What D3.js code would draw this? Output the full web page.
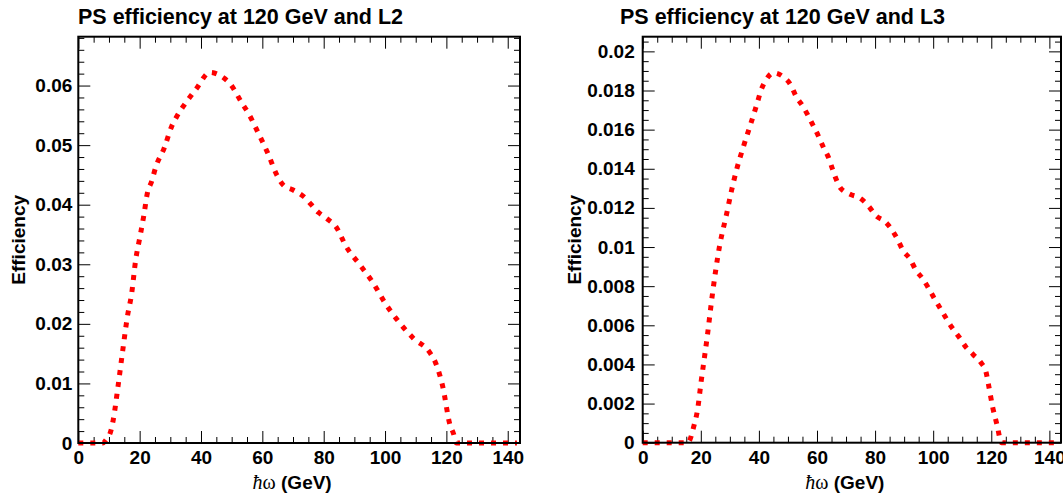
<!DOCTYPE html>
<html>
<head>
<meta charset="utf-8">
<script src="https://cdn.jsdelivr.net/npm/d3@7"></script>
<style>
  html, body { margin: 0; padding: 0; background: #fff; }
  svg { display: block; }
</style>
</head>
<body>
<svg id="chart" width="1063" height="498"></svg>
<script>
// ---------- data ----------
const titles = ["PS efficiency at 120 GeV and L2", "PS efficiency at 120 GeV and L3"];
const xTickLabels = [0, 20, 40, 60, 80, 100, 120, 140];
const yTicksL2 = [0, 0.01, 0.02, 0.03, 0.04, 0.05, 0.06];
const yTicksL3 = [0, 0.002, 0.004, 0.006, 0.008, 0.01, 0.012, 0.014, 0.016, 0.018, 0.02];

const energyL2 = [0, 4, 8, 9, 10.7, 11.4, 13, 14.5, 16, 17.4, 18.7, 20.1, 21.4, 22.5, 23.9, 25.3, 28, 30.4, 32.1, 34.2, 38.4, 42.9, 46.8, 49.5, 53.3, 55.4, 58.7, 61.9, 64.7, 66.8, 69.9, 73.4, 78.3, 81.2, 84, 87.3, 91.8, 96.2, 100, 104.4, 109.2, 114.7, 116.6, 118.8, 121.2, 122.3, 123.3, 128, 143];
const effL2 = [0, 0, 0, 0.0005, 0.0022, 0.0039, 0.0097, 0.0156, 0.0212, 0.0251, 0.0307, 0.0346, 0.0383, 0.0419, 0.0439, 0.0464, 0.0495, 0.0531, 0.0548, 0.0565, 0.0594, 0.0622, 0.0615, 0.0603, 0.0571, 0.0554, 0.052, 0.0485, 0.045, 0.0433, 0.0425, 0.0414, 0.0387, 0.0376, 0.0363, 0.033, 0.0299, 0.0268, 0.0235, 0.0204, 0.0176, 0.0151, 0.0133, 0.0095, 0.003, 0.0016, 0, 0, 0];

const energyL3 = [0, 10, 15.5, 17.7, 18.9, 20.1, 22.2, 24.1, 26.4, 28.9, 30.6, 32.4, 34.6, 37.2, 39.5, 40.7, 42.3, 45, 48.4, 50.9, 52.8, 55.1, 57, 58.7, 60.4, 62.2, 63.9, 65.3, 66.5, 68.2, 71.4, 74.8, 77.7, 80.3, 83.4, 85.7, 87.7, 89.7, 92, 94.1, 96.3, 98.4, 100.3, 102.3, 104.3, 106.4, 108.9, 111.2, 113.8, 116.4, 118.2, 119, 120.5, 122, 123.5, 130, 143];
const effL3 = [0, 0, 0, 0.0009, 0.0017, 0.0031, 0.0054, 0.0077, 0.01, 0.0117, 0.0129, 0.014, 0.0151, 0.0163, 0.0174, 0.018, 0.0185, 0.0189, 0.0187, 0.0183, 0.0177, 0.0172, 0.0167, 0.0162, 0.0157, 0.0151, 0.0146, 0.014, 0.0135, 0.013, 0.0127, 0.0125, 0.0121, 0.0116, 0.0113, 0.0109, 0.0104, 0.0098, 0.0094, 0.0088, 0.0084, 0.0079, 0.0074, 0.0069, 0.0064, 0.0059, 0.0054, 0.0049, 0.0045, 0.0041, 0.0036, 0.003, 0.0018, 0.0009, 0, 0, 0];

const xDomain = [0, 144];
const yMaxL2 = 0.0682;
const yMaxL3 = 0.02075;

// ---------- layout ----------
const panels = [
  { title: titles[0], xs: energyL2, ys: effL2, yMax: yMaxL2, yTicks: yTicksL2, yMinorStep: 0.002,
    left: 78.3, right: 520, top: 36.7, bottom: 443, titleX: 78, yTitleX: 25, labelGap: 6 },
  { title: titles[1], xs: energyL3, ys: effL3, yMax: yMaxL3, yTicks: yTicksL3, yMinorStep: 0.0005,
    left: 642.7, right: 1061, top: 36.7, bottom: 442.7, titleX: 620, yTitleX: 581, labelGap: 8 }
];

const svg = d3.select("#chart");
const FONT = "'Liberation Sans', Arial, Helvetica, sans-serif";
const LABEL_SIZE = 19;

function range(a, b, step) {
  const out = [];
  for (let v = a; v <= b + 1e-9; v += step) out.push(+v.toFixed(6));
  return out;
}

panels.forEach(p => {
  const x = d3.scaleLinear().domain(xDomain).range([p.left, p.right]);
  const y = d3.scaleLinear().domain([0, p.yMax]).range([p.bottom, p.top]);
  const g = svg.append("g");

  const xMinor = range(0, xDomain[1], 5).filter(v => !xTickLabels.includes(v));
  const yMinor = range(0, p.yMax, p.yMinorStep).filter(v => !p.yTicks.some(t => Math.abs(t - v) < 1e-9));

  const fmt = d => d === 0 ? "0" : d3.format("~g")(d);

  function styleAxis(sel) {
    sel.select(".domain").remove();
    sel.selectAll(".tick line").attr("stroke", "#000").attr("stroke-width", 1);
    sel.attr("font-family", FONT).attr("font-size", LABEL_SIZE).attr("font-weight", "bold");
    sel.selectAll(".tick text").attr("fill", "#000");
  }

  // bottom
  g.append("g").attr("transform", `translate(0,${p.bottom})`)
    .call(d3.axisBottom(x).tickValues(xTickLabels).tickSizeInner(-12).tickSizeOuter(0).tickPadding(8).tickFormat(fmt))
    .call(styleAxis);
  g.append("g").attr("transform", `translate(0,${p.bottom})`)
    .call(d3.axisBottom(x).tickValues(xMinor).tickSizeInner(-6).tickSizeOuter(0).tickFormat(""))
    .call(styleAxis);
  // top
  g.append("g").attr("transform", `translate(0,${p.top})`)
    .call(d3.axisTop(x).tickValues(xTickLabels).tickSizeInner(-12).tickSizeOuter(0).tickFormat(""))
    .call(styleAxis);
  g.append("g").attr("transform", `translate(0,${p.top})`)
    .call(d3.axisTop(x).tickValues(xMinor).tickSizeInner(-6).tickSizeOuter(0).tickFormat(""))
    .call(styleAxis);
  // left
  g.append("g").attr("transform", `translate(${p.left},0)`)
    .call(d3.axisLeft(y).tickValues(p.yTicks).tickSizeInner(-12).tickSizeOuter(0).tickPadding(p.labelGap).tickFormat(fmt))
    .call(styleAxis);
  g.append("g").attr("transform", `translate(${p.left},0)`)
    .call(d3.axisLeft(y).tickValues(yMinor).tickSizeInner(-6).tickSizeOuter(0).tickFormat(""))
    .call(styleAxis);
  // right
  g.append("g").attr("transform", `translate(${p.right},0)`)
    .call(d3.axisRight(y).tickValues(p.yTicks).tickSizeInner(-12).tickSizeOuter(0).tickFormat(""))
    .call(styleAxis);
  g.append("g").attr("transform", `translate(${p.right},0)`)
    .call(d3.axisRight(y).tickValues(yMinor).tickSizeInner(-6).tickSizeOuter(0).tickFormat(""))
    .call(styleAxis);

  // curve
  const pts = p.xs.map((v, i) => [v, p.ys[i]]);
  const line = d3.line().x(d => x(d[0])).y(d => y(d[1])).curve(d3.curveMonotoneX);
  g.append("path").datum(pts)
    .attr("d", line)
    .attr("fill", "none")
    .attr("stroke", "#ff0000")
    .attr("stroke-width", 5)
    .attr("stroke-dasharray", "5 7")
    .attr("stroke-linecap", "butt");

  // frame
  g.append("rect")
    .attr("x", p.left).attr("y", p.top)
    .attr("width", p.right - p.left).attr("height", p.bottom - p.top)
    .attr("fill", "none").attr("stroke", "#000").attr("stroke-width", 2);

  // title
  g.append("text")
    .attr("x", p.titleX).attr("y", 24)
    .attr("font-family", FONT).attr("font-size", 21.5).attr("font-weight", "bold")
    .attr("fill", "#000")
    .text(p.title);

  // x-axis title
  const xt = g.append("text")
    .attr("x", (p.left + p.right) / 2 - 7).attr("y", 489)
    .attr("text-anchor", "middle")
    .attr("font-family", FONT).attr("font-size", LABEL_SIZE).attr("font-weight", "bold")
    .attr("fill", "#000");
  xt.append("tspan").attr("font-family", "'Liberation Serif', 'DejaVu Serif', serif")
    .attr("font-weight", "normal").attr("font-style", "italic").attr("font-size", 20).text("ħ");
  xt.append("tspan").attr("font-family", "'Liberation Serif', 'DejaVu Serif', serif")
    .attr("font-weight", "normal").attr("font-size", 20).text("ω");
  xt.append("tspan").text(" (GeV)");

  // y-axis title
  g.append("text")
    .attr("transform", `translate(${p.yTitleX},${(p.top + p.bottom) / 2}) rotate(-90)`)
    .attr("text-anchor", "middle")
    .attr("font-family", FONT).attr("font-size", LABEL_SIZE).attr("font-weight", "bold")
    .attr("fill", "#000")
    .text("Efficiency");
});
</script>
</body>
</html>
